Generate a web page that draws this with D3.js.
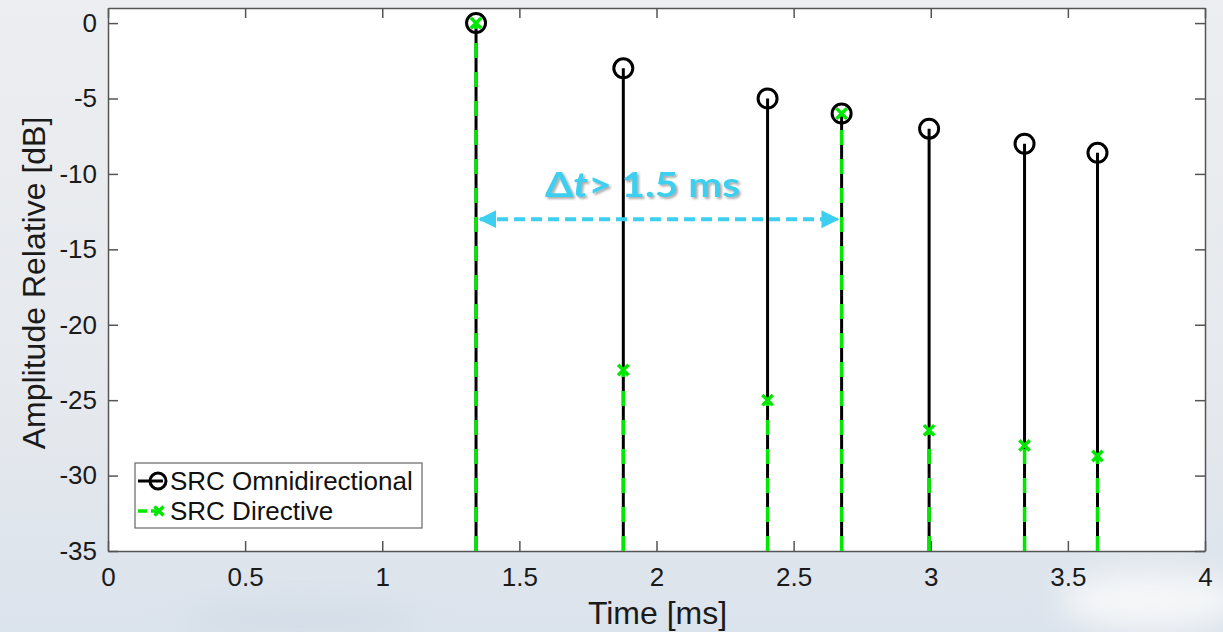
<!DOCTYPE html>
<html>
<head>
<meta charset="utf-8">
<script src="https://cdn.jsdelivr.net/npm/d3@7"></script>
<style>
  body { margin: 0; overflow: hidden; }
  text { font-family: "Liberation Sans", Arial, sans-serif; }
</style>
</head>
<body>
<div id="chart"></div>
<script>
// data
var times = [1.342, 1.879, 2.405, 2.675, 2.994, 3.342, 3.608];
var omni = [0, -3, -5, -6, -7, -8, -8.6];
var directive = [0, -23, -25, -6, -27, -28, -28.7];
var xTicks = [0, 0.5, 1, 1.5, 2, 2.5, 3, 3.5, 4];
var yTicks = [0, -5, -10, -15, -20, -25, -30, -35];
var seriesNames = ["SRC Omnidirectional", "SRC Directive"];
var arrowFrom = 1.342, arrowTo = 2.675, arrowY = -13;

var W = 1223, H = 632;
var M = { left: 108, right: 18, top: 8, bottom: 81 };
var GREEN = "#00e800", CYAN = "#3ccfef";

var svg = d3.select("#chart").append("svg").attr("width", W).attr("height", H);
var defs = svg.append("defs");

// blurry photo background, just a soft gradient
var bg = defs.append("linearGradient").attr("id", "bg").attr("x1", 0).attr("y1", 0).attr("x2", 0).attr("y2", 1);
bg.append("stop").attr("offset", "0%").attr("stop-color", "#eceef1");
bg.append("stop").attr("offset", "60%").attr("stop-color", "#e6e9ed");
bg.append("stop").attr("offset", "100%").attr("stop-color", "#dbe3ec");
svg.append("rect").attr("width", W).attr("height", H).attr("fill", "url(#bg)");

var blur = defs.append("filter").attr("id", "blur").attr("x", "-50%").attr("y", "-50%").attr("width", "200%").attr("height", "200%");
blur.append("feGaussianBlur").attr("stdDeviation", 14);
svg.append("ellipse").attr("cx", 1150).attr("cy", 600).attr("rx", 90).attr("ry", 30)
  .attr("fill", "#f4f6f8").attr("filter", "url(#blur)");
svg.append("ellipse").attr("cx", 300).attr("cy", 620).attr("rx", 120).attr("ry", 20)
  .attr("fill", "#d5dee8").attr("filter", "url(#blur)");

var shadow = defs.append("filter").attr("id", "shadow");
shadow.append("feDropShadow").attr("dx", 2).attr("dy", 2).attr("stdDeviation", 1)
  .attr("flood-color", "#777").attr("flood-opacity", 0.6);

var x = d3.scaleLinear().domain([0, 4]).range([M.left, W - M.right]);
var y = d3.scaleLinear().domain([-35, 1]).range([H - M.bottom, M.top]);

// plot area
svg.append("rect").attr("x", x(0)).attr("y", y(1)).attr("width", x(4) - x(0)).attr("height", y(-35) - y(1))
  .attr("fill", "#fff");

// axes, ticks inward on all four sides
function styleAxis(g) {
  g.selectAll("path.domain").attr("stroke", "#555").attr("stroke-width", 1.5);
  g.selectAll(".tick line").attr("stroke", "#555").attr("stroke-width", 1.5);
  g.selectAll(".tick text").attr("fill", "#1a1a1a").style("font-size", "26px");
}
var gX = svg.append("g").attr("transform", "translate(0," + y(-35) + ")")
  .call(d3.axisBottom(x).tickValues(xTicks).tickSizeInner(-10).tickSizeOuter(0).tickPadding(17)
    .tickFormat(function(d) { return d; }));
styleAxis(gX);
var gXt = svg.append("g").attr("transform", "translate(0," + y(1) + ")")
  .call(d3.axisTop(x).tickValues(xTicks).tickSizeInner(-10).tickSizeOuter(0).tickFormat(""));
styleAxis(gXt);
var gY = svg.append("g").attr("transform", "translate(" + x(0) + ",0)")
  .call(d3.axisLeft(y).tickValues(yTicks).tickSizeInner(-10).tickSizeOuter(0).tickPadding(11)
    .tickFormat(function(d) { return d; }));
styleAxis(gY);
var gYr = svg.append("g").attr("transform", "translate(" + x(4) + ",0)")
  .call(d3.axisRight(y).tickValues(yTicks).tickSizeInner(-10).tickSizeOuter(0).tickFormat(""));
styleAxis(gYr);

// axis labels
svg.append("text").attr("x", (x(0) + x(4)) / 2 + 1).attr("y", 624).attr("text-anchor", "middle")
  .attr("fill", "#1a1a1a").style("font-size", "32px").text("Time [ms]");
svg.append("text").attr("transform", "translate(45,283) rotate(-90)")
  .attr("text-anchor", "middle").attr("fill", "#1a1a1a").style("font-size", "32px")
  .text("Amplitude Relative [dB]");

var plot = svg.append("g");

// omnidirectional stems: black solid with circle markers
plot.selectAll(".omni").data(times).enter().append("line")
  .attr("x1", function(d) { return x(d); }).attr("x2", function(d) { return x(d); })
  .attr("y1", y(-35)).attr("y2", function(d, i) { return y(omni[i]); })
  .attr("stroke", "#000").attr("stroke-width", 3);
plot.selectAll(".omniDot").data(times).enter().append("circle")
  .attr("cx", function(d) { return x(d); }).attr("cy", function(d, i) { return y(omni[i]); })
  .attr("r", 9.5).attr("fill", "none").attr("stroke", "#000").attr("stroke-width", 3);

// directive stems: green dashed with x markers
plot.selectAll(".dir").data(times).enter().append("line")
  .attr("x1", function(d) { return x(d); }).attr("x2", function(d) { return x(d); })
  .attr("y1", y(-35)).attr("y2", function(d, i) { return y(directive[i]); })
  .attr("stroke", GREEN).attr("stroke-width", 3.5).attr("stroke-dasharray", "15,14");
function cross(g, cx, cy, s) {
  g.append("path").attr("d", "M" + (cx - s) + "," + (cy - s) + "L" + (cx + s) + "," + (cy + s)
      + "M" + (cx - s) + "," + (cy + s) + "L" + (cx + s) + "," + (cy - s))
    .attr("stroke", GREEN).attr("stroke-width", 3.5).attr("fill", "none");
}
times.forEach(function(t, i) { cross(plot, x(t), y(directive[i]), 5.2); });

// annotation: double arrow with delta t label
var ay = y(arrowY);
var arrowMarker = defs.append("marker").attr("id", "ahead").attr("viewBox", "0 0 10 10")
  .attr("refX", 9).attr("refY", 5).attr("markerWidth", 4.5).attr("markerHeight", 5)
  .attr("orient", "auto-start-reverse").attr("markerUnits", "strokeWidth");
arrowMarker.append("path").attr("d", "M0,0L10,5L0,10z").attr("fill", CYAN);
svg.append("line").attr("x1", x(arrowFrom) + 4).attr("x2", x(arrowTo) - 4).attr("y1", ay).attr("y2", ay)
  .attr("stroke", CYAN).attr("stroke-width", 4).attr("stroke-dasharray", "11,6")
  .attr("marker-start", "url(#ahead)").attr("marker-end", "url(#ahead)");
var note = svg.append("text").attr("x", 545).attr("y", 197)
  .attr("textLength", 195).attr("lengthAdjust", "spacingAndGlyphs")
  .attr("fill", CYAN).attr("filter", "url(#shadow)")
  .style("font-family", "Lato, 'Open Sans', sans-serif").style("font-weight", "bold").style("font-size", "34px");
note.append("tspan").text("\u0394");
note.append("tspan").style("font-style", "italic").text("t");
note.append("tspan").text("> 1.5 ms");

// legend
var lg = svg.append("g").attr("transform", "translate(135,463)");
lg.append("rect").attr("width", 287).attr("height", 65).attr("fill", "#fff")
  .attr("stroke", "#666").attr("stroke-width", 1.2);
lg.append("line").attr("x1", 3).attr("x2", 28).attr("y1", 18).attr("y2", 18)
  .attr("stroke", "#000").attr("stroke-width", 3);
lg.append("circle").attr("cx", 23).attr("cy", 18).attr("r", 8)
  .attr("fill", "none").attr("stroke", "#000").attr("stroke-width", 3);
lg.append("line").attr("x1", 3).attr("x2", 28).attr("y1", 48).attr("y2", 48)
  .attr("stroke", GREEN).attr("stroke-width", 3.5).attr("stroke-dasharray", "9,4");
cross(lg, 24, 48, 4.5);
lg.selectAll(".lt").data(seriesNames).enter().append("text")
  .attr("x", 35).attr("y", function(d, i) { return 27 + i * 30; })
  .attr("fill", "#111").style("font-size", "26px").text(function(d) { return d; });
</script>
</body>
</html>
